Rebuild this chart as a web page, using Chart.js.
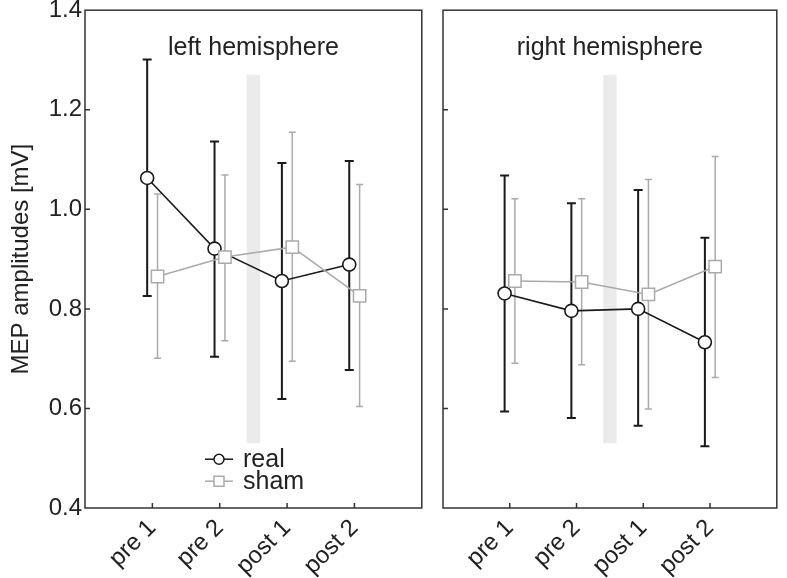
<!DOCTYPE html>
<html>
<head>
<meta charset="utf-8">
<script src="https://cdn.jsdelivr.net/npm/chart.js@4"></script>
<style>
  html, body { margin: 0; padding: 0; background: #fff; }
  #wrap { position: relative; width: 787px; height: 578px; }
  .panel { position: absolute; top: 0; height: 578px; }
  #leftBox { left: 0; width: 432px; }
  #rightBox { left: 432px; width: 355px; }
</style>
</head>
<body>
<div id="wrap">
  <div class="panel" id="leftBox"><canvas id="leftChart"></canvas></div>
  <div class="panel" id="rightBox"><canvas id="rightChart"></canvas></div>
</div>
<script>
// Data
const categories = ['pre 1', 'pre 2', 'post 1', 'post 2'];
const yTicks = [0.4, 0.6, 0.8, 1.0, 1.2, 1.4];
const seriesNames = ['real', 'sham'];
const panelTitles = ['left hemisphere', 'right hemisphere'];
const yTitle = 'MEP amplitudes [mV]';

const leftReal = [1.063, 0.921, 0.856, 0.889];
const leftRealLow = [0.826, 0.704, 0.619, 0.677];
const leftRealHigh = [1.301, 1.136, 1.093, 1.097];
const leftSham = [0.865, 0.904, 0.924, 0.826];
const leftShamLow = [0.701, 0.736, 0.695, 0.604];
const leftShamHigh = [1.031, 1.069, 1.155, 1.050];

const rightReal = [0.831, 0.796, 0.800, 0.733];
const rightRealLow = [0.594, 0.581, 0.565, 0.524];
const rightRealHigh = [1.068, 1.012, 1.039, 0.943];
const rightSham = [0.856, 0.854, 0.829, 0.885];
const rightShamLow = [0.691, 0.688, 0.599, 0.662];
const rightShamHigh = [1.021, 1.021, 1.060, 1.106];

// stimulation period (grey band)
const bandX = [2.4, 2.6];
const bandY = [0.53, 1.27];

// Styles
const FONT = "'Liberation Sans', Arial, sans-serif";
const TEXT = '#222';
const BLACK = '#1a1a1a';
const GREY = '#aaaaaa';
const BAND = '#ebebeb';
const OFF = 0.077; // horizontal dodge of the two series

function drawErrorBars(ctx, x, y, low, high, dx, color, width, cap) {
    ctx.strokeStyle = color;
    ctx.lineWidth = width;
    low.forEach((lo, i) => {
        const px = x.getPixelForValue(i + 1 + dx);
        const y0 = y.getPixelForValue(lo);
        const y1 = y.getPixelForValue(high[i]);
        ctx.beginPath();
        ctx.moveTo(px, y0); ctx.lineTo(px, y1);
        ctx.moveTo(px - cap, y0); ctx.lineTo(px + cap, y0);
        ctx.moveTo(px - cap, y1); ctx.lineTo(px + cap, y1);
        ctx.stroke();
    });
}

function drawMarker(ctx, style, cx, cy, r, color) {
    ctx.fillStyle = '#fff';
    ctx.strokeStyle = color;
    ctx.lineWidth = 1.5;
    ctx.beginPath();
    if (style === 'circle') {
        ctx.arc(cx, cy, r, 0, Math.PI * 2);
    } else {
        ctx.rect(cx - r, cy - r, 2 * r, 2 * r);
    }
    ctx.fill();
    ctx.stroke();
}

function panelDecor(title, d, withLegend) {
    return {
        id: 'panelDecor',
        beforeDatasetsDraw(chart) {
            const { ctx, scales: { x, y } } = chart;
            ctx.save();
            // grey band
            ctx.fillStyle = BAND;
            const bx0 = x.getPixelForValue(bandX[0]);
            const bx1 = x.getPixelForValue(bandX[1]);
            const by0 = y.getPixelForValue(bandY[1]);
            const by1 = y.getPixelForValue(bandY[0]);
            ctx.fillRect(bx0, by0, bx1 - bx0, by1 - by0);
            // error bars
            drawErrorBars(ctx, x, y, d.shamLow, d.shamHigh, OFF, GREY, 1.5, 3.5);
            drawErrorBars(ctx, x, y, d.realLow, d.realHigh, -OFF, BLACK, 2, 4.5);
            ctx.restore();
        },
        afterDraw(chart) {
            const { ctx, chartArea: a, scales: { x, y } } = chart;
            ctx.save();
            // frame
            ctx.strokeStyle = '#333';
            ctx.lineWidth = 1.5;
            ctx.strokeRect(a.left, a.top, a.right - a.left, a.bottom - a.top);
            // inward ticks
            ctx.beginPath();
            yTicks.slice(1, -1).forEach(v => {
                const py = y.getPixelForValue(v);
                ctx.moveTo(a.left, py); ctx.lineTo(a.left + 5, py);
            });
            categories.forEach((c, i) => {
                const px = x.getPixelForValue(i + 1);
                ctx.moveTo(px, a.bottom); ctx.lineTo(px, a.bottom - 5);
            });
            ctx.stroke();
            // panel title
            ctx.fillStyle = TEXT;
            ctx.font = '25px ' + FONT;
            ctx.textAlign = 'center';
            ctx.textBaseline = 'alphabetic';
            ctx.fillText(title, (a.left + a.right) / 2, a.top + 45);
            // legend
            if (withLegend) {
                const rows = [
                    { name: seriesNames[0], color: BLACK, style: 'circle', r: 5 },
                    { name: seriesNames[1], color: GREY, style: 'rect', r: 5 }
                ];
                rows.forEach((row, k) => {
                    const cy = a.top + 449 + k * 22;
                    const lx = a.left + 120;
                    ctx.strokeStyle = row.color;
                    ctx.lineWidth = 1.5;
                    ctx.beginPath();
                    ctx.moveTo(lx, cy); ctx.lineTo(lx + 28, cy);
                    ctx.stroke();
                    drawMarker(ctx, row.style, lx + 14, cy, row.r, row.color);
                    ctx.fillStyle = TEXT;
                    ctx.font = '25px ' + FONT;
                    ctx.textAlign = 'left';
                    ctx.textBaseline = 'middle';
                    ctx.fillText(row.name, lx + 38, cy + 1);
                });
            }
            ctx.restore();
        }
    };
}

// keep the plot box fixed: no extra room for half-labels at the ends
function noEdgePadding(s) {
    s.paddingTop = 0;
    s.paddingBottom = 0;
    s.paddingLeft = 0;
    s.paddingRight = 0;
}

function makeChart(canvasId, isLeft, title, d) {
    return new Chart(document.getElementById(canvasId), {
        type: 'line',
        data: {
            datasets: [
                {
                    label: seriesNames[0],
                    data: d.real.map((v, i) => ({ x: i + 1 - OFF, y: v })),
                    borderColor: BLACK,
                    borderWidth: 1.6,
                    pointStyle: 'circle',
                    pointRadius: 6.5,
                    pointBorderWidth: 1.6,
                    pointBackgroundColor: '#fff',
                    pointBorderColor: BLACK,
                    order: 1
                },
                {
                    label: seriesNames[1],
                    data: d.sham.map((v, i) => ({ x: i + 1 + OFF, y: v })),
                    borderColor: GREY,
                    borderWidth: 1.5,
                    pointStyle: 'rect',
                    pointRadius: 8.7,
                    pointBorderWidth: 1.5,
                    pointBackgroundColor: '#fff',
                    pointBorderColor: GREY,
                    order: 0
                }
            ]
        },
        options: {
            responsive: true,
            maintainAspectRatio: false,
            animation: false,
            events: [],
            layout: { padding: { top: 8, right: isLeft ? 8 : 3, left: 0, bottom: 0 } },
            plugins: { legend: { display: false }, tooltip: { enabled: false } },
            scales: {
                x: {
                    type: 'linear',
                    min: 0,
                    max: 5,
                    grid: { display: false, drawTicks: false },
                    border: { display: false },
                    afterBuildTicks: s => { s.ticks = categories.map((c, i) => ({ value: i + 1 })); },
                    afterFit: s => { s.height = 70; noEdgePadding(s); },
                    ticks: {
                        autoSkip: false,
                        minRotation: 45,
                        maxRotation: 45,
                        padding: 6,
                        color: TEXT,
                        font: { family: FONT, size: 24 },
                        callback: v => categories[Math.round(v) - 1]
                    }
                },
                y: {
                    min: 0.4,
                    max: 1.4,
                    grid: { display: false, drawTicks: false },
                    border: { display: false },
                    afterBuildTicks: s => { s.ticks = yTicks.map(v => ({ value: v })); },
                    afterFit: s => { s.width = isLeft ? 85 : 11; noEdgePadding(s); },
                    ticks: {
                        display: isLeft,
                        padding: 3,
                        color: TEXT,
                        font: { family: FONT, size: 24 },
                        callback: v => v.toFixed(1)
                    },
                    title: {
                        display: isLeft,
                        text: yTitle,
                        color: TEXT,
                        font: { family: FONT, size: 24 },
                        padding: { top: 7, bottom: 0 }
                    }
                }
            }
        },
        plugins: [panelDecor(title, d, isLeft)]
    });
}

makeChart('leftChart', true, panelTitles[0], {
    real: leftReal, realLow: leftRealLow, realHigh: leftRealHigh,
    sham: leftSham, shamLow: leftShamLow, shamHigh: leftShamHigh
});
makeChart('rightChart', false, panelTitles[1], {
    real: rightReal, realLow: rightRealLow, realHigh: rightRealHigh,
    sham: rightSham, shamLow: rightShamLow, shamHigh: rightShamHigh
});
</script>
</body>
</html>
